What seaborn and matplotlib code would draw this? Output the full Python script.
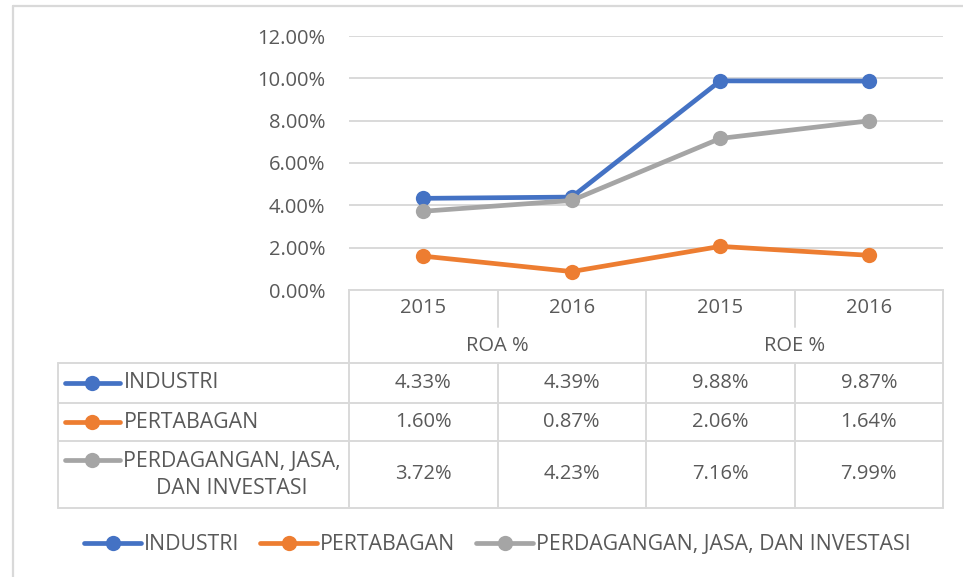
import matplotlib
matplotlib.use("Agg")
import matplotlib.pyplot as plt
import seaborn as sns
import pandas as pd
from matplotlib.lines import Line2D
from matplotlib.ticker import FuncFormatter
from matplotlib.transforms import blended_transform_factory

# ---- data ----
years = ["2015", "2016", "2015", "2016"]
groups = ["ROA %", "ROE %"]
series_names = ["INDUSTRI", "PERTABAGAN", "PERDAGANGAN, JASA, DAN INVESTASI"]
table_names = ["INDUSTRI", "PERTABAGAN", "PERDAGANGAN, JASA,\nDAN INVESTASI"]
industri = [4.33, 4.39, 9.88, 9.87]
pertabagan = [1.60, 0.87, 2.06, 1.64]
perdagangan = [3.72, 4.23, 7.16, 7.99]
y_ticks = [0, 2, 4, 6, 8, 10, 12]
colors = ["#4472C4", "#ED7D31", "#A5A5A5"]

series_values = [industri, pertabagan, perdagangan]
rows = []
for name, vals in zip(series_names, series_values):
    for i, v in enumerate(vals):
        rows.append({"pos": i, "value": v, "series": name})
df = pd.DataFrame(rows)

sns.set_style("white")
plt.rcParams["font.family"] = ["Open Sans", "DejaVu Sans"]
TXT = "#595959"
GRID = "#D9D9D9"
FS = 14.5      # numbers
FSL = 15.3     # words

W, H = 963, 577
fig = plt.figure(figsize=(W / 100, H / 100), dpi=100)

def fx(x):
    return x / W

def fy(y):
    return 1 - y / H

ax = fig.add_axes([fx(349), fy(290), (943 - 349) / W, (290 - 36) / H])
sns.lineplot(data=df, x="pos", y="value", hue="series", hue_order=series_names,
             palette=colors, marker="o", markersize=11, markeredgewidth=0,
             linewidth=3.4, legend=False, sort=False, ax=ax)
ax.set_xlim(-0.5, 3.5)
ax.set_ylim(y_ticks[0], y_ticks[-1])
ax.set_yticks(y_ticks)
ax.yaxis.set_major_formatter(FuncFormatter(lambda v, p: f"{v:.2f}%"))
ax.set_xticks([])
ax.set_xlabel("")
ax.set_ylabel("")
ax.grid(axis="y", color=GRID, linewidth=1.4)
ax.set_axisbelow(True)
for s in ["top", "right", "left"]:
    ax.spines[s].set_visible(False)
ax.spines["bottom"].set_color(GRID)
ax.spines["bottom"].set_linewidth(1.4)
ax.tick_params(axis="y", length=0, pad=17, labelsize=FS, labelcolor=TXT)

# ---- outer border ----
fig.add_artist(Line2D([fx(13), fx(13)], [fy(6), 0], transform=fig.transFigure, color=GRID, lw=1.6))
fig.add_artist(Line2D([fx(13), 1], [fy(6), fy(6)], transform=fig.transFigure, color=GRID, lw=1.6))

# ---- data table ----
bt = blended_transform_factory(ax.transData, fig.transFigure)

def hline(x0, x1, y):
    fig.add_artist(Line2D([fx(x0), fx(x1)], [fy(y), fy(y)], transform=fig.transFigure, color=GRID, lw=1.4))

def vline_data(xd, y0, y1):
    fig.add_artist(Line2D([xd, xd], [fy(y0), fy(y1)], transform=bt, color=GRID, lw=1.4))

vline_data(-0.5, 290, 508)
vline_data(0.5, 290, 327)
vline_data(1.5, 290, 508)
vline_data(2.5, 290, 327)
vline_data(3.5, 290, 508)
vline_data(0.5, 363, 508)
vline_data(2.5, 363, 508)
for y in [363, 403, 441, 508]:
    hline(58, 943, y)
fig.add_artist(Line2D([fx(58), fx(58)], [fy(363), fy(508)], transform=fig.transFigure, color=GRID, lw=1.4))

for i, yr in enumerate(years):
    ax.text(i, fy(308), yr, transform=bt, ha="center", va="center", fontsize=FS, color=TXT)
for g, grp in enumerate(groups):
    ax.text(2 * g + 0.5, fy(346), grp, transform=bt, ha="center", va="center", fontsize=FS, color=TXT)

row_y = [383, 422, 474]
for r, (name, vals, c) in enumerate(zip(table_names, series_values, colors)):
    y = row_y[r]
    key_y = y if r < 2 else 460
    fig.add_artist(Line2D([fx(65), fx(120)], [fy(key_y), fy(key_y)], transform=fig.transFigure,
                          color=c, lw=3.4, solid_capstyle="round"))
    fig.add_artist(Line2D([fx(92)], [fy(key_y)], transform=fig.transFigure, color=c,
                          marker="o", markersize=11, markeredgewidth=0))
    if r < 2:
        fig.text(fx(124), fy(y), name, ha="left", va="center", fontsize=FSL, color=TXT)
    else:
        fig.text(fx(232), fy(475), name, ha="center", va="center", fontsize=FSL, color=TXT,
                 multialignment="center", linespacing=1.35)
    for i, v in enumerate(vals):
        ax.text(i, fy(y), f"{v:.2f}%", transform=bt, ha="center", va="center", fontsize=FS, color=TXT)

# ---- bottom legend ----
handles = [Line2D([], [], color=c, lw=3.4, marker="o", markersize=11, markeredgewidth=0,
                  solid_capstyle="round") for c in colors]
fig.legend(handles, series_names, loc="center", bbox_to_anchor=(fx(497), fy(545)), ncol=3,
           frameon=False, fontsize=FSL, labelcolor=TXT, handlelength=2.7, handletextpad=0.1,
           columnspacing=1.0)

fig.savefig("out.png", dpi=100)
